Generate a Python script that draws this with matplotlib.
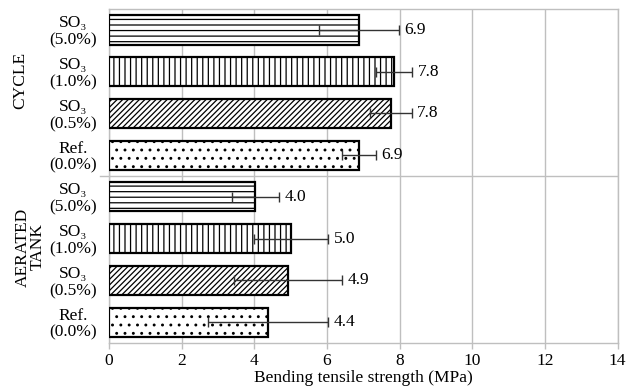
import matplotlib.pyplot as plt

plt.rcParams['font.family'] = ['Liberation Serif', 'DejaVu Serif']
plt.rcParams['hatch.linewidth'] = 0.9

# top to bottom inside each group
levels = ['SO₃\n(5.0%)', 'SO₃\n(1.0%)', 'SO₃\n(0.5%)', 'Ref.\n(0.0%)']
groups = ['CYCLE', 'AERATED\nTANK']
cycle_vals = [6.88, 7.84, 7.76, 6.88]
cycle_err = [1.10, 0.50, 0.57, 0.46]
tank_vals = [4.03, 5.01, 4.93, 4.38]
tank_err = [0.65, 1.03, 1.48, 1.66]
hatches = ['---', '|||', '//////', '..']

fig = plt.figure(figsize=(6.27, 3.92), dpi=100)
ax = fig.add_axes([0.174, 0.125, 0.811, 0.852])

grid_c = '#bfbfbf'
fs = 12.5
vals = cycle_vals + tank_vals
errs = cycle_err + tank_err
ypos = [7 - i for i in range(8)]
for i, (y, v, e) in enumerate(zip(ypos, vals, errs)):
    h = hatches[i % 4]
    ax.barh(y, v, height=0.7, color='white', edgecolor='black',
            linewidth=1.6, hatch=h, zorder=3)
    ax.errorbar(v, y, xerr=e, fmt='none', ecolor='#333333', elinewidth=1.0,
                capsize=3.5, capthick=1.0, zorder=4)
    ax.annotate(f'{v:.1f}', (v + e, y), xytext=(4, 0), textcoords='offset points',
                ha='left', va='center', fontsize=fs)

ax.set_xlim(0, 14)
ax.set_ylim(-0.5, 7.5)
ax.set_xticks(range(0, 15, 2))
ax.set_yticks([])
ax.grid(axis='x', color=grid_c, linewidth=1.0, zorder=0)
for s in ax.spines.values():
    s.set_color(grid_c)
    s.set_linewidth(1.0)
ax.tick_params(axis='x', colors=grid_c, labelcolor='black', labelsize=fs,
               length=4, width=1.0, pad=3)
ax.set_xlabel('Bending tensile strength (MPa)', fontsize=fs, labelpad=1)

# group separator
ax.axhline(3.5, color=grid_c, linewidth=1.0, zorder=1)
ax.plot([-0.25, 0], [3.5, 3.5], color=grid_c, linewidth=1.0, clip_on=False)

# category labels
ytr = ax.get_yaxis_transform()
for i, y in enumerate(ypos):
    ax.text(-0.07, y - 0.05, levels[i % 4], transform=ytr, ha='center',
            va='center', fontsize=fs, linespacing=1.1)

ax.text(-0.174, 5.8, groups[0], transform=ytr, rotation=90,
        ha='center', va='center', fontsize=fs)
ax.text(-0.155, 1.8, groups[1], transform=ytr, rotation=90,
        ha='center', va='center', fontsize=fs, multialignment='center',
        linespacing=0.95)

fig.savefig('out.png', dpi=100)
